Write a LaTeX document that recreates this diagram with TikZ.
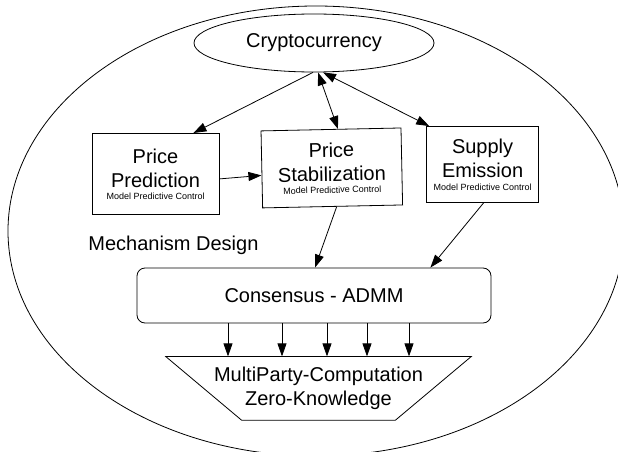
\documentclass[tikz,border=0pt]{standalone}
\usepackage{fontspec}
\setmainfont{Liberation Sans}
\usetikzlibrary{positioning,shapes.geometric,arrows.meta}

\begin{document}
\begin{tikzpicture}[x=1pt,y=-1pt,>={Triangle[length=13pt,width=9pt]},line width=0.8pt]
	\tikzstyle{block}=[draw, inner sep=0pt, align=center, font=\fontsize{20}{24}\selectfont]
	\useasboundingbox (0,0) rectangle (618,452);
	\clip (0,0) rectangle (618,452);
		\node[draw, ellipse, minimum width=616pt, minimum height=450pt] (design) at (316,231) {};
		\node[block, ellipse, minimum width=240pt, minimum height=58pt] (crypto) at (314,43) {Cryptocurrency};
		\node[block, minimum width=140pt, minimum height=77pt, rotate=1.2] (stab) [below=57pt of crypto, xshift=17pt] {Price\\Stabilization\\[-12pt]{\fontsize{9}{11}\selectfont Model Predictive Control}};
		\node[block, minimum width=127pt, minimum height=81pt] (pred) [left=42pt of stab, yshift=-4.5pt] {Price\\Prediction\\[-12pt]{\fontsize{9}{11}\selectfont Model Predictive Control}};
		\node[block, minimum width=112pt, minimum height=76pt] (supply) [right=24pt of stab, yshift=2pt] {Supply\\Emission\\[-11pt]{\fontsize{9}{11}\selectfont Model Predictive Control}};
		\node[inner sep=0pt, anchor=base west, font=\fontsize{20}{24}\selectfont] (mech) at (88,250) {Mechanism Design};
		\node[block, rounded corners=8pt, minimum width=354pt, minimum height=55pt] (cons) at (314,295.5) {Consensus - ADMM};
		\node[block, draw=none, minimum width=305pt, minimum height=63pt] (mpc) [below=33pt of cons, xshift=4.5pt] {MultiParty-Computation\\Zero-Knowledge};
			\draw (mpc.north west) -- (mpc.north east) -- ([xshift=-76pt]mpc.south east) -- ([xshift=76pt]mpc.south west) -- cycle;
			\draw[->] ([xshift=-1pt]crypto.south) -- ([xshift=-26pt]pred.north east);
			\draw[<->] ([xshift=4pt]crypto.south) -- ([xshift=7pt]stab.north);
			\draw[<->] ([xshift=9pt]crypto.south) -- ([xshift=3pt]supply.north west);
			\draw[->] ([yshift=-5pt]pred.east) -- ([yshift=-6pt]stab.west);
			\draw[->] ([xshift=4pt]stab.south) -- ([xshift=1pt]cons.north);
			\draw[->] ([xshift=1pt]supply.south) -- ([xshift=-61pt]cons.north east);
			\foreach \x in {228,282,327,367,409}
				\draw[->] (\x,0 |- cons.south) -- (\x,0 |- mpc.north);
\end{tikzpicture}
\end{document}
